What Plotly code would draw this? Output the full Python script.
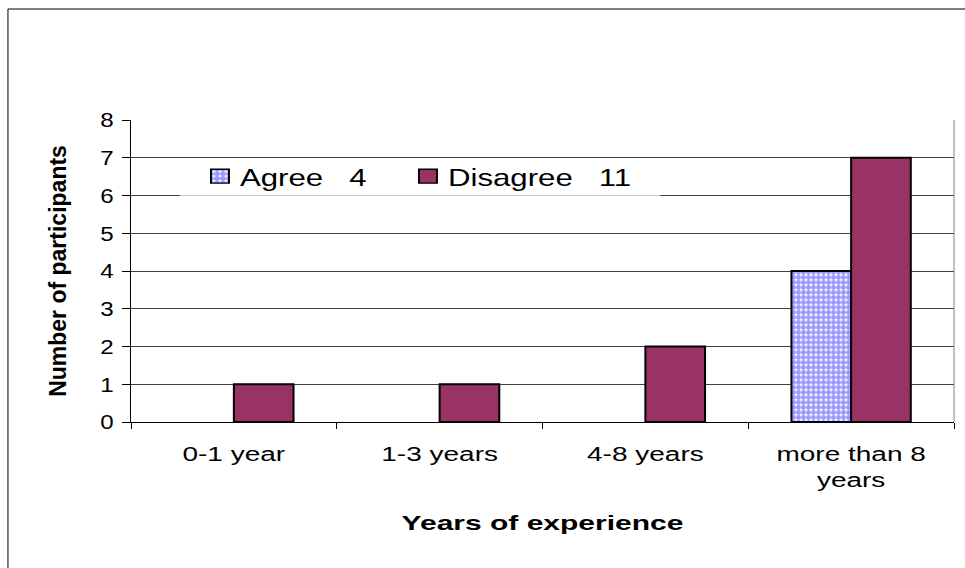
import plotly.graph_objects as go

categories = ["0-1 year", "1-3 years", "4-8 years", "more than 8<br>years"]
agree = [0, 0, 0, 4]
disagree = [1, 1, 2, 7]
agree_name = "Agree\u00a0\u00a0\u00a04"
disagree_name = "Disagree\u00a0\u00a0\u00a011"
y_ticks = [0, 1, 2, 3, 4, 5, 6, 7, 8]

FONT = "Liberation Sans, Arial, sans-serif"

# no outline for empty (zero-height) bars
agree_line_w = [2 if v > 0 else 0 for v in agree]

fig = go.Figure()
fig.add_trace(go.Bar(
    x=categories, y=agree, name=agree_name,
    marker=dict(color="white",
                line=dict(color="black", width=agree_line_w),
                pattern=dict(shape=".", fgcolor="#9999ff", bgcolor="white",
                             size=5, solidity=0.75, fillmode="replace")),
))
fig.add_trace(go.Bar(
    x=categories, y=disagree, name=disagree_name,
    marker=dict(color="#993366", line=dict(color="black", width=2)),
))

# legend backdrop
fig.add_shape(type="rect", xref="paper", yref="y", x0=0.0595, x1=0.643, y0=6.0, y1=6.97,
              fillcolor="white", line=dict(width=0), layer="above")
fig.add_shape(type="line", xref="paper", yref="y", x0=0.0595, x1=0.643, y0=6, y1=6,
              line=dict(color="#c8c8c8", width=1), layer="above")
# right border of plot area
fig.add_shape(type="line", xref="paper", yref="paper", x0=1, x1=1, y0=0, y1=1,
              line=dict(color="#808080", width=1), layer="above")
# outer chart border
fig.add_shape(type="rect", xref="paper", yref="paper", x0=-0.1495, x1=1.1, y0=-0.6, y1=1.3675,
              line=dict(color="black", width=1), fillcolor="rgba(0,0,0,0)", layer="below")

fig.update_layout(
    width=965, height=568,
    margin=dict(l=131, r=11, t=120, b=146),
    paper_bgcolor="white", plot_bgcolor="white",
    font=dict(family=FONT, color="black"),
    barmode="group", bargap=0.42, bargroupgap=0,
    showlegend=True,
    legend=dict(orientation="h", x=0.0838, y=0.887, xanchor="left", yanchor="top",
                bgcolor="rgba(0,0,0,0)", font=dict(size=24, family=FONT),
                entrywidth=163, entrywidthmode="pixels", traceorder="normal"),
    xaxis=dict(type="category", tickson="boundaries", ticks="outside", ticklen=6,
               tickcolor="black", showline=True, linecolor="black", linewidth=1,
               showgrid=False, tickfont=dict(size=20, family=FONT),
               ticklabelstandoff=14,
               title=dict(text="<b>Years of experience</b>", font=dict(size=20, family=FONT),
                          standoff=26)),
    yaxis=dict(range=[0, 8], tickvals=y_ticks, ticks="outside", ticklen=8,
               tickcolor="black", showline=True, linecolor="black", linewidth=1,
               showgrid=True, gridcolor="#404040", gridwidth=1, zeroline=False,
               tickfont=dict(size=21, family=FONT), ticklabelstandoff=4,
               title=dict(text="<b>Number of participants</b>", font=dict(size=23, family=FONT),
                          standoff=29)),
)

post = """
var gd = document.getElementById('{plot_id}');
function stretch(sel, s) {
  gd.querySelectorAll(sel).forEach(function(el) {
    var bb = el.getBBox();
    var t = el.transform.baseVal.consolidate();
    var a = t ? t.matrix.a : 1, e = t ? t.matrix.e : 0;
    var anch = el.getAttribute('text-anchor') || 'start';
    var px = anch === 'middle' ? bb.x + bb.width / 2 : (anch === 'end' ? bb.x + bb.width : bb.x);
    var cx = a * px + e;
    var old = el.getAttribute('transform') || '';
    el.setAttribute('transform', 'translate(' + cx + ',0) scale(' + s + ',1) translate(' + (-cx) + ',0) ' + old);
  });
}
stretch('.xtick text', 1.4);
stretch('.ytick text', 1.15);
stretch('.legendtext', 1.3);
stretch('.g-xtitle text', 1.5);
gd.querySelectorAll('.legend .scrollbox').forEach(function(el) { el.removeAttribute('clip-path'); });
gd.querySelectorAll('.legend').forEach(function(el) { el.removeAttribute('clip-path'); });
gd.querySelectorAll('.legendpoints path').forEach(function(el) {
  var old = el.getAttribute('transform') || '';
  el.setAttribute('transform', old + ' scale(1.5,1.15)');
  el.style.stroke = 'black';
  el.style.strokeWidth = '1.3px';
  el.style.strokeOpacity = '1';
});
"""

fig.write_html("out.html", post_script=post)
